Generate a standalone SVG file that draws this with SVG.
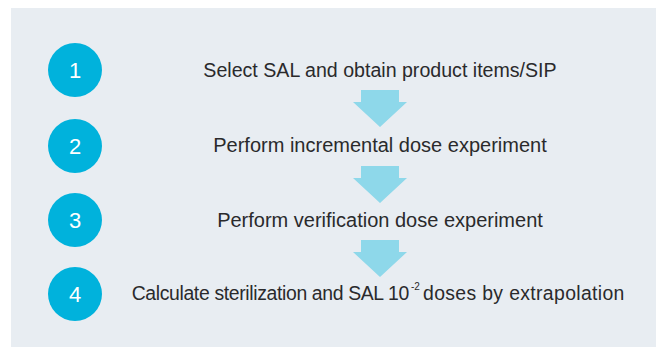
<svg xmlns="http://www.w3.org/2000/svg" width="656" height="347" viewBox="0 0 656 347">
  <style>
    .panel { fill: #e8edf2; }
    .badge { fill: #00b2dc; }
    .num { font-family: "Liberation Sans", Arial, sans-serif; font-size: 22px; fill: #ffffff; text-anchor: middle; }
    .step { font-family: "Liberation Sans", Arial, sans-serif; font-size: 20px; fill: #2a2a2c; text-anchor: middle; }
    .sup { font-family: "Liberation Sans", Arial, sans-serif; font-size: 10px; fill: #2a2a2c; }
    .arrow { fill: #8ed8ea; }
  </style>
  <defs>
    <!-- block arrow pointing down, origin at top-centre -->
    <polygon id="down" points="-19,0 19,0 19,12 27,12 0,37 -27,12 -19,12"/>
  </defs>
  <rect class="panel" x="11" y="8" width="645" height="339"/>

  <g id="step1">
    <circle class="badge" cx="75" cy="70" r="27"/>
    <text class="num" x="75" y="78">1</text>
    <text class="step" x="380" y="77" style="font-size:19.6px">Select SAL and obtain product items/SIP</text>
  </g>
  <g id="step2">
    <circle class="badge" cx="75" cy="146" r="27"/>
    <text class="num" x="75" y="154">2</text>
    <text class="step" x="380" y="152">Perform incremental dose experiment</text>
  </g>
  <g id="step3">
    <circle class="badge" cx="75" cy="220" r="27"/>
    <text class="num" x="75" y="228">3</text>
    <text class="step" x="380" y="227">Perform verification dose experiment</text>
  </g>
  <g id="step4">
    <circle class="badge" cx="75" cy="294" r="27"/>
    <text class="num" x="75" y="302">4</text>
    <!-- label split around the superscript exponent -->
    <text class="step" x="409" y="300" style="text-anchor:end;font-size:19.4px;letter-spacing:-0.35px">Calculate sterilization and SAL 10</text>
    <text class="sup" x="411" y="290">-2</text>
    <text class="step" x="423" y="300" style="text-anchor:start;font-size:19.4px;letter-spacing:0.35px">doses by extrapolation</text>
  </g>

  <g id="connectors">
    <use href="#down" class="arrow" x="380" y="90"/>
    <use href="#down" class="arrow" x="380" y="166"/>
    <use href="#down" class="arrow" x="380" y="240"/>
  </g>
</svg>
